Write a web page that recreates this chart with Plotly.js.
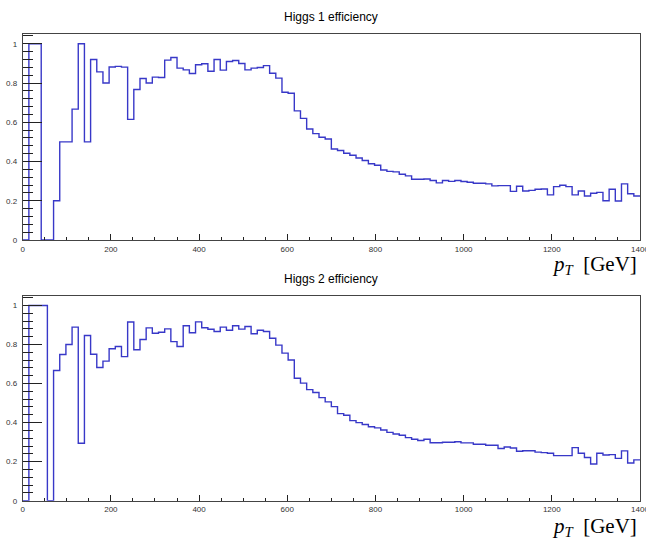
<!DOCTYPE html>
<html>
<head>
<meta charset="utf-8">
<script src="https://cdn.plot.ly/plotly-3.0.1.min.js"></script>
<style>html,body{margin:0;padding:0;background:#fff;}#chart{width:646px;height:541px;}</style>
</head>
<body>
<div id="chart"></div>
<script>
// Histogram definition: 100 bins from 0 to 1400 GeV
const nBins = 100;
const xMin = 0;
const xMax = 1400;

// Higgs 1 efficiency per bin
const higgs1Eff = [
  0, 1, 1, 0, 0, 0.2, 0.5, 0.5, 0.667, 1.0,
  0.5, 0.92, 0.857, 0.8, 0.882, 0.885, 0.881, 0.615, 0.767, 0.823,
  0.8, 0.83, 0.828, 0.917, 0.93, 0.876, 0.867, 0.849, 0.893, 0.898,
  0.86, 0.92, 0.866, 0.91, 0.915, 0.90, 0.867, 0.876, 0.879, 0.889,
  0.85, 0.825, 0.753, 0.748, 0.658, 0.62, 0.566, 0.542, 0.524, 0.515,
  0.464, 0.456, 0.442, 0.432, 0.418, 0.405, 0.389, 0.381, 0.357, 0.35,
  0.347, 0.335, 0.327, 0.31, 0.31, 0.311, 0.303, 0.291, 0.303, 0.299,
  0.303, 0.298, 0.294, 0.289, 0.289, 0.286, 0.276, 0.277, 0.277, 0.248,
  0.274, 0.25, 0.253, 0.259, 0.26, 0.23, 0.272, 0.279, 0.272, 0.23,
  0.25, 0.224, 0.238, 0.243, 0.2, 0.259, 0.199, 0.286, 0.236, 0.224
];

// Higgs 2 efficiency per bin
const higgs2Eff = [
  0, 1, 1, 1, 0, 0.667, 0.749, 0.80, 0.889, 0.294,
  0.846, 0.75, 0.682, 0.715, 0.778, 0.79, 0.738, 0.915, 0.773, 0.826,
  0.885, 0.858, 0.863, 0.88, 0.815, 0.79, 0.896, 0.86, 0.916, 0.886,
  0.878, 0.867, 0.889, 0.873, 0.896, 0.879, 0.892, 0.855, 0.873, 0.867,
  0.832, 0.797, 0.756, 0.721, 0.627, 0.602, 0.569, 0.554, 0.528, 0.506,
  0.482, 0.446, 0.438, 0.41, 0.40, 0.39, 0.379, 0.373, 0.362, 0.35,
  0.342, 0.335, 0.323, 0.315, 0.308, 0.315, 0.297, 0.297, 0.299, 0.299,
  0.302, 0.296, 0.296, 0.289, 0.289, 0.284, 0.284, 0.267, 0.275, 0.27,
  0.253, 0.256, 0.256, 0.249, 0.246, 0.243, 0.231, 0.231, 0.231, 0.272,
  0.243, 0.221, 0.188, 0.243, 0.234, 0.236, 0.217, 0.255, 0.193, 0.209
];

const titles = ["Higgs 1 efficiency", "Higgs 2 efficiency"];
const xTickVals = [0, 200, 400, 600, 800, 1000, 1200, 1400];
const xTickText = ["0", "200", "400", "600", "800", "1000", "1200", "1400"];
const yTickVals = [0, 0.2, 0.4, 0.6, 0.8, 1];
const yTickText = ["0", "0.2", "0.4", "0.6", "0.8", "1"];

const W = 646, H = 541;
const binW = (xMax - xMin) / nBins;
const edges = [];
for (let i = 0; i <= nBins; i++) edges.push(xMin + i * binW);

function stepTrace(vals, xa, ya) {
  return {
    type: 'scatter', mode: 'lines',
    x: edges, y: vals.concat([vals[vals.length - 1]]),
    line: {shape: 'hv', color: '#3838c8', width: 1.4},
    xaxis: xa, yaxis: ya, hoverinfo: 'skip', showlegend: false,
    cliponaxis: true
  };
}

const px = v => v / W;
const py = v => 1 - v / H;

function xAxis(anchor) {
  return {
    domain: [px(22.7), px(640)], range: [xMin, xMax], anchor: anchor,
    showline: true, linecolor: '#444', linewidth: 1, mirror: true,
    showgrid: false, zeroline: false,
    tickmode: 'array', tickvals: xTickVals, ticktext: xTickText,
    ticks: 'inside', ticklen: 6, tickcolor: '#222', tickwidth: 1,
    minor: {ticks: 'inside', dtick: 50, tick0: 0, ticklen: 3, tickcolor: '#222', tickwidth: 1, showgrid: false},
    tickfont: {family: 'Liberation Sans, Arial, sans-serif', size: 8, color: '#333'},
    ticklabelstandoff: 1,
    ticklabeloverflow: 'allow'
  };
}
function yAxis(anchor, top, bottom) {
  return {
    domain: [py(bottom), py(top)], range: [0, 1.05], anchor: anchor,
    showline: true, linecolor: '#444', linewidth: 1, mirror: true,
    showgrid: false, zeroline: false,
    tickmode: 'array', tickvals: yTickVals, ticktext: yTickText,
    ticks: 'inside', ticklen: 19, tickcolor: '#222', tickwidth: 1,
    minor: {ticks: 'inside', dtick: 0.04, tick0: 0, ticklen: 10, tickcolor: '#222', tickwidth: 1, showgrid: false},
    tickfont: {family: 'Liberation Sans, Arial, sans-serif', size: 8, color: '#333'},
    ticklabelstandoff: 3,
    ticklabeloverflow: 'allow'
  };
}

const data = [
  stepTrace(higgs1Eff, 'x', 'y'),
  stepTrace(higgs2Eff, 'x2', 'y2')
];

const axTitle = '<i>p</i><sub><i>T</i></sub>  [GeV]';
const annotations = [
  {text: titles[0], x: px(331), y: py(17), xref: 'paper', yref: 'paper', showarrow: false,
   xanchor: 'center', yanchor: 'middle', font: {family: 'Liberation Sans, Arial, sans-serif', size: 12, color: '#000'}},
  {text: titles[1], x: px(331), y: py(279), xref: 'paper', yref: 'paper', showarrow: false,
   xanchor: 'center', yanchor: 'middle', font: {family: 'Liberation Sans, Arial, sans-serif', size: 12, color: '#000'}},
  {text: axTitle, x: px(638), y: py(265), xref: 'paper', yref: 'paper', showarrow: false,
   xanchor: 'right', yanchor: 'middle', borderpad: 0, font: {family: 'Liberation Serif, DejaVu Serif, serif', size: 21, color: '#000'}},
  {text: axTitle, x: px(638), y: py(527), xref: 'paper', yref: 'paper', showarrow: false,
   xanchor: 'right', yanchor: 'middle', borderpad: 0, font: {family: 'Liberation Serif, DejaVu Serif, serif', size: 21, color: '#000'}}
];

const layout = {
  width: W, height: H,
  margin: {l: 0, r: 0, t: 0, b: 0},
  paper_bgcolor: '#fff', plot_bgcolor: '#fff',
  showlegend: false,
  xaxis: xAxis('y'),
  yaxis: yAxis('x', 34, 240),
  xaxis2: xAxis('y2'),
  yaxis2: yAxis('x2', 295.7, 500.7),
  annotations: annotations
};

Plotly.newPlot('chart', data, layout, {displayModeBar: false, staticPlot: true});
</script>
</body>
</html>
